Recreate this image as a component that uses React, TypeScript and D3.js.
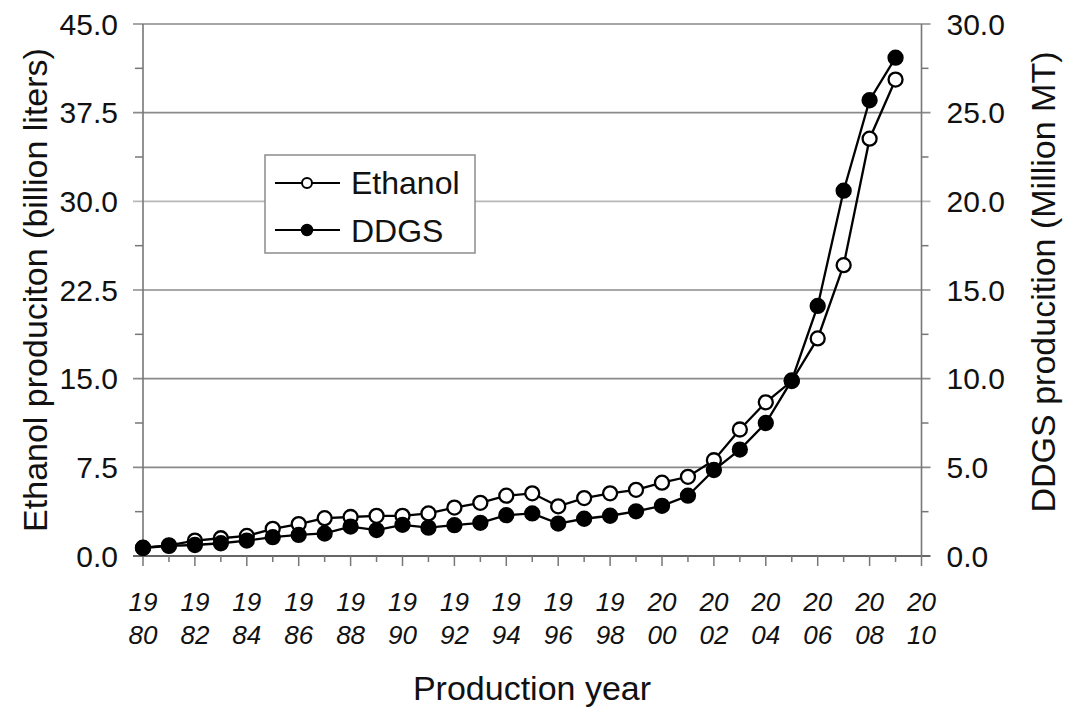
import React from "react";
import * as d3 from "d3";

// Production years (one point per year)
const years = [
  1980, 1981, 1982, 1983, 1984, 1985, 1986, 1987, 1988, 1989,
  1990, 1991, 1992, 1993, 1994, 1995, 1996, 1997, 1998, 1999,
  2000, 2001, 2002, 2003, 2004, 2005, 2006, 2007, 2008, 2009,
];

// Ethanol production, billion liters (left axis)
const ethanol = [
  0.7, 0.9, 1.3, 1.5, 1.7, 2.3, 2.7, 3.2, 3.3, 3.4,
  3.4, 3.6, 4.1, 4.5, 5.1, 5.3, 4.2, 4.9, 5.3, 5.6,
  6.2, 6.7, 8.1, 10.7, 13.0, 14.8, 18.4, 24.6, 35.3, 40.3,
];

// DDGS production, million metric tons (right axis)
const ddgs = [
  0.45, 0.57, 0.62, 0.72, 0.87, 1.06, 1.19, 1.27, 1.66, 1.46,
  1.76, 1.6, 1.74, 1.87, 2.3, 2.4, 1.83, 2.1, 2.27, 2.52,
  2.83, 3.4, 4.85, 6.0, 7.5, 9.9, 14.1, 20.6, 25.7, 28.1,
];

const leftTicks = [0, 7.5, 15, 22.5, 30, 37.5, 45];
const leftTickLabels = ["0.0", "7.5", "15.0", "22.5", "30.0", "37.5", "45.0"];
const rightTicks = [0, 5, 10, 15, 20, 25, 30];
const rightTickLabels = ["0.0", "5.0", "10.0", "15.0", "20.0", "25.0", "30.0"];
const xMajorTicks = [
  1980, 1982, 1984, 1986, 1988, 1990, 1992, 1994,
  1996, 1998, 2000, 2002, 2004, 2006, 2008, 2010,
];

const W = 1066;
const H = 710;
const PLOT = { left: 143, right: 921.5, top: 24, bottom: 556 };
const FONT = "'Liberation Sans', Arial, Helvetica, sans-serif";
const AXIS = "#777";
const GRID = "#8a8a8a";

export default function App() {
  const x = d3.scaleLinear().domain([1980, 2010]).range([PLOT.left, PLOT.right]);
  const yL = d3.scaleLinear().domain([0, 45]).range([PLOT.bottom, PLOT.top]);
  const yR = d3.scaleLinear().domain([0, 30]).range([PLOT.bottom, PLOT.top]);

  const ethLine = d3
    .line<number>()
    .x((_, i) => x(years[i]))
    .y((d) => yL(d));
  const ddgsLine = d3
    .line<number>()
    .x((_, i) => x(years[i]))
    .y((d) => yR(d));

  // minor ticks halfway between the labelled ones
  const leftMinor = d3.range(3.75, 45, 7.5);
  const xMinor = d3.range(1981, 2010, 2);

  return (
    <svg
      width={W}
      height={H}
      style={{ position: "absolute", left: 0, top: 0, background: "#fff" }}
      fontFamily={FONT}
    >
      {/* horizontal gridlines, extending outward as major ticks */}
      {leftTicks.map((t) => (
        <line
          key={"g" + t}
          x1={PLOT.left - 10}
          x2={PLOT.right + 9}
          y1={yL(t)}
          y2={yL(t)}
          stroke={t === 30 ? "#b8b8b8" : t === 0 ? "#666" : GRID}
          strokeWidth={t === 0 ? 2 : 1.6}
        />
      ))}

      {/* left axis */}
      <line x1={PLOT.left} x2={PLOT.left} y1={PLOT.top} y2={PLOT.bottom} stroke={AXIS} strokeWidth={1.6} />
      {leftMinor.map((t) => (
        <line key={"lm" + t} x1={PLOT.left - 8} x2={PLOT.left} y1={yL(t)} y2={yL(t)} stroke={AXIS} strokeWidth={1.5} />
      ))}
      {leftTicks.map((t, i) => (
        <text
          key={"lt" + t}
          x={PLOT.left - 25}
          y={yL(t)}
          dy="0.36em"
          textAnchor="end"
          fontSize={30}
          fill="#111"
        >
          {leftTickLabels[i]}
        </text>
      ))}

      {/* right axis */}
      <line x1={PLOT.right} x2={PLOT.right} y1={PLOT.top} y2={PLOT.bottom} stroke={AXIS} strokeWidth={1.6} />
      {leftMinor.map((t) => (
        <line key={"rm" + t} x1={PLOT.right} x2={PLOT.right + 7} y1={yL(t)} y2={yL(t)} stroke={AXIS} strokeWidth={1.5} />
      ))}
      {rightTicks.map((t, i) => (
        <text
          key={"rt" + t}
          x={PLOT.right + 25}
          y={yR(t)}
          dy="0.36em"
          textAnchor="start"
          fontSize={30}
          fill="#111"
        >
          {rightTickLabels[i]}
        </text>
      ))}

      {/* x axis ticks and two-line year labels */}
      {xMajorTicks.map((t) => (
        <line key={"xt" + t} x1={x(t)} x2={x(t)} y1={PLOT.bottom} y2={PLOT.bottom + 10} stroke={AXIS} strokeWidth={1.5} />
      ))}
      {xMinor.map((t) => (
        <line key={"xm" + t} x1={x(t)} x2={x(t)} y1={PLOT.bottom} y2={PLOT.bottom + 6} stroke={AXIS} strokeWidth={1.5} />
      ))}
      {xMajorTicks.map((t) => {
        const s = String(t);
        return (
          <text key={"xl" + t} x={x(t)} textAnchor="middle" fontSize={26} fontStyle="italic" fill="#111">
            <tspan x={x(t)} y={611}>{s.slice(0, 2)}</tspan>
            <tspan x={x(t)} y={644}>{s.slice(2)}</tspan>
          </text>
        );
      })}

      {/* series */}
      <path d={ethLine(ethanol) ?? ""} fill="none" stroke="#000" strokeWidth={2.3} />
      <path d={ddgsLine(ddgs) ?? ""} fill="none" stroke="#000" strokeWidth={2.3} />
      {ethanol.map((v, i) => (
        <circle key={"e" + i} cx={x(years[i])} cy={yL(v)} r={7} fill="#fff" stroke="#000" strokeWidth={2.3} />
      ))}
      {ddgs.map((v, i) => (
        <circle key={"d" + i} cx={x(years[i])} cy={yR(v)} r={7} fill="#000" stroke="#000" strokeWidth={2.3} />
      ))}

      {/* legend */}
      <g>
        <rect x={265} y={155} width={210} height={98} fill="#fff" stroke="#8c8c8c" strokeWidth={1.5} />
        <line x1={275} x2={340} y1={183} y2={183} stroke="#000" strokeWidth={2} />
        <circle cx={307} cy={183} r={5} fill="#fff" stroke="#000" strokeWidth={2} />
        <text x={351} y={193.5} fontSize={32} fill="#111">Ethanol</text>
        <line x1={275} x2={340} y1={230} y2={230} stroke="#000" strokeWidth={2} />
        <circle cx={307} cy={230} r={5.5} fill="#000" stroke="#000" strokeWidth={1.5} />
        <text x={351} y={242} fontSize={32} fill="#111">DDGS</text>
      </g>

      {/* axis titles */}
      <text transform="translate(47,290) rotate(-90)" textAnchor="middle" fontSize={34} fill="#111">
        Ethanol produciton (billion liters)
      </text>
      <text transform="translate(1055,282) rotate(-90)" textAnchor="middle" fontSize={34} fill="#111">
        DDGS producition (Million MT)
      </text>
      <text x={532} y={700} textAnchor="middle" fontSize={34} fill="#111">
        Production year
      </text>
    </svg>
  );
}
